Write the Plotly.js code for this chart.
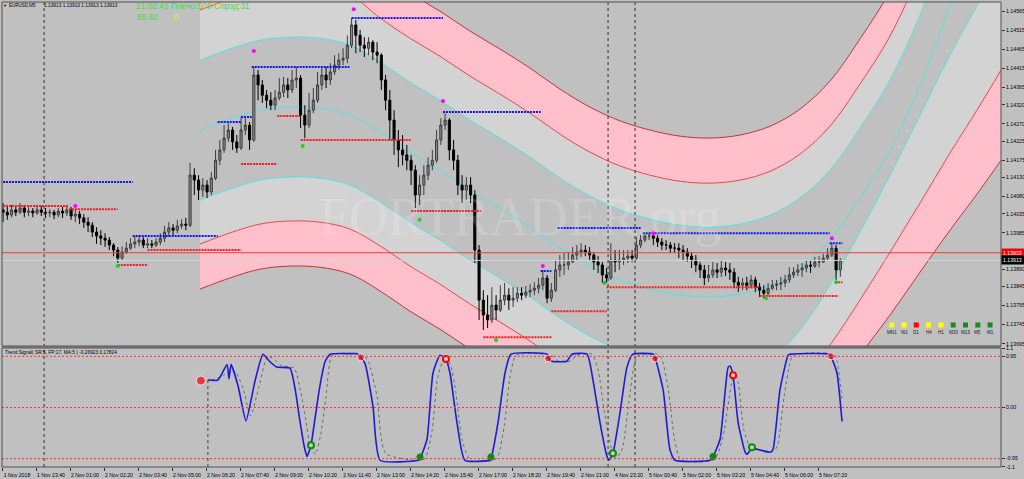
<!DOCTYPE html>
<html><head><meta charset="utf-8">
<script src="https://cdn.plot.ly/plotly-3.0.1.min.js"></script>
<style>html,body{margin:0;padding:0;background:#c0c0c0;}#chart{width:1024px;height:479px;}</style>
</head><body><div id="chart"></div>
<script>
// ---------- axis labels ----------
const timeLabels = ["1 Nov 2018","1 Nov 23:40","2 Nov 01:00","2 Nov 02:20","2 Nov 03:40","2 Nov 05:00","2 Nov 06:20","2 Nov 07:40","2 Nov 09:00","2 Nov 10:20","2 Nov 11:40","2 Nov 13:00","2 Nov 14:20","2 Nov 15:40","2 Nov 17:00","2 Nov 18:20","2 Nov 19:40","2 Nov 21:00","4 Nov 23:20","5 Nov 00:40","5 Nov 02:00","5 Nov 03:20","5 Nov 04:40","5 Nov 06:00","5 Nov 07:20"];
const barsPerLabel = 16;
const priceTicks = [1.14565,1.14515,1.14465,1.14415,1.14365,1.14320,1.14270,1.14225,1.14175,1.14130,1.14080,1.14035,1.13985,1.13890,1.13845,1.13795,1.13745,1.13695];
const signalTicks = [1.1,0.95,0,-0.95,-1.1];
const signalTickText = ["1.1","0.95","0.00","-0.95","-1.1"];

// ---------- price bars (each drawn bar = 2 M5 bars) ----------
const barOpen = [1.14045,1.14039,1.14032,1.14045,1.14039,1.14050,1.14039,1.14042,1.14037,1.14045,
1.14039,1.14037,1.14039,1.14032,1.14042,1.14037,1.14045,1.14029,1.14034,1.14024,
1.14013,1.14005,1.13987,1.13977,1.13971,1.13966,1.13953,1.13940,1.13919,1.13935,
1.13945,1.13956,1.13961,1.13966,1.13953,1.13956,1.13953,1.13961,1.13971,1.13987,
1.13998,1.13992,1.14003,1.14008,1.14005,
1.14136,1.14123,1.14097,1.14110,1.14092,1.14128,1.14175,1.14202,1.14233,1.14254,
1.14223,1.14207,1.14254,1.14267,1.14228,1.14398,1.14372,1.14345,1.14332,1.14319,
1.14338,1.14353,1.14372,1.14359,1.14385,1.14390,1.14293,1.14267,1.14306,1.14332,
1.14372,1.14398,1.14385,1.14406,1.14424,1.14437,1.14442,1.14476,1.14529,1.14502,
1.14476,1.14468,1.14484,1.14458,1.14450,1.14385,1.14332,1.14280,1.14228,1.14202,
1.14189,1.14175,1.14149,1.14084,1.14110,1.14136,1.14162,1.14175,1.14228,1.14267,
1.14280,1.14202,1.14175,1.14110,1.14097,1.14110,1.14084,1.13940,1.13809,1.13770,
1.13757,1.13796,1.13783,1.13809,1.13822,1.13809,1.13814,1.13827,1.13822,1.13830,
1.13835,1.13840,1.13848,1.13867,1.13814,1.13835,1.13888,1.13901,1.13901,1.13909,
1.13927,1.13935,1.13940,1.13935,1.13927,1.13909,1.13901,1.13875,1.13867,1.13914,
1.13909,1.13914,1.13919,1.13924,1.13919,1.13953,1.13966,1.13977,1.13977,1.13971,
1.13961,1.13953,1.13953,1.13945,1.13945,1.13940,1.13935,1.13924,1.13914,1.13901,
1.13888,1.13867,1.13875,1.13888,1.13882,1.13893,1.13888,1.13882,1.13856,1.13848,
1.13854,1.13848,1.13862,1.13843,1.13835,1.13827,1.13840,1.13848,1.13851,1.13854,
1.13862,1.13875,1.13882,1.13888,1.13893,1.13901,1.13898,1.13909,1.13909,1.13919,
1.13927,1.13945,1.13888];
const barHigh = [1.14063,1.14058,1.14058,1.14055,1.14063,1.14058,1.14053,1.14050,1.14053,1.14055,
1.14050,1.14047,1.14045,1.14050,1.14053,1.14055,1.14053,1.14047,1.14042,1.14034,
1.14026,1.14013,1.14000,1.13992,1.13984,1.13974,1.13958,1.13948,1.13950,1.13961,
1.13971,1.13977,1.13979,1.13974,1.13971,1.13966,1.13971,1.13984,1.14003,1.14013,
1.14008,1.14019,1.14021,1.14024,1.14168,
1.14154,1.14136,1.14128,1.14123,1.14144,1.14202,1.14228,1.14267,1.14272,1.14262,
1.14241,1.14288,1.14285,1.14275,1.14419,1.14411,1.14385,1.14359,1.14353,1.14359,
1.14390,1.14393,1.14390,1.14411,1.14419,1.14398,1.14319,1.14351,1.14364,1.14406,
1.14419,1.14419,1.14429,1.14450,1.14455,1.14468,1.14502,1.14547,1.14542,1.14516,
1.14497,1.14497,1.14489,1.14484,1.14455,1.14398,1.14359,1.14306,1.14254,1.14241,
1.14215,1.14189,1.14162,1.14136,1.14162,1.14183,1.14202,1.14254,1.14285,1.14298,
1.14285,1.14228,1.14189,1.14136,1.14131,1.14131,1.14097,1.13953,1.13835,1.13822,
1.13843,1.13822,1.13848,1.13854,1.13840,1.13843,1.13843,1.13843,1.13846,1.13851,
1.13856,1.13867,1.13888,1.13875,1.13854,1.13914,1.13927,1.13932,1.13935,1.13948,
1.13953,1.13958,1.13953,1.13948,1.13935,1.13924,1.13909,1.13893,1.13958,1.13940,
1.13940,1.13940,1.13940,1.13940,1.13974,1.13979,1.13987,1.13984,1.13987,1.13979,
1.13971,1.13966,1.13961,1.13958,1.13958,1.13953,1.13945,1.13935,1.13927,1.13909,
1.13901,1.13901,1.13909,1.13906,1.13914,1.13909,1.13906,1.13893,1.13870,1.13867,
1.13870,1.13875,1.13870,1.13854,1.13848,1.13854,1.13862,1.13862,1.13870,1.13875,
1.13895,1.13895,1.13903,1.13906,1.13914,1.13914,1.13922,1.13924,1.13930,1.13945,
1.13958,1.13953,1.13919];
const barLow = [1.14013,1.14019,1.14026,1.14029,1.14034,1.14026,1.14029,1.14026,1.14032,1.14029,
1.14024,1.14026,1.14021,1.14026,1.14024,1.14029,1.14019,1.14013,1.14008,1.13998,
1.13987,1.13974,1.13956,1.13953,1.13948,1.13940,1.13924,1.13906,1.13914,1.13930,
1.13940,1.13945,1.13950,1.13945,1.13945,1.13945,1.13948,1.13953,1.13961,1.13974,
1.13979,1.13984,1.13995,1.13992,1.14000,
1.14084,1.14071,1.14079,1.14076,1.14084,1.14123,1.14162,1.14194,1.14223,1.14202,
1.14194,1.14202,1.14241,1.14202,1.14223,1.14332,1.14325,1.14311,1.14306,1.14306,
1.14332,1.14340,1.14338,1.14351,1.14364,1.14259,1.14233,1.14259,1.14298,1.14325,
1.14359,1.14364,1.14372,1.14398,1.14411,1.14424,1.14429,1.14468,1.14455,1.14458,
1.14445,1.14450,1.14437,1.14429,1.14359,1.14306,1.14228,1.14189,1.14157,1.14162,
1.14149,1.14110,1.14050,1.14058,1.14084,1.14123,1.14149,1.14168,1.14215,1.14254,
1.14175,1.14149,1.14084,1.14063,1.14071,1.14063,1.13906,1.13757,1.13731,1.13736,
1.13749,1.13757,1.13778,1.13796,1.13783,1.13791,1.13804,1.13809,1.13814,1.13817,
1.13822,1.13827,1.13835,1.13801,1.13804,1.13830,1.13870,1.13875,1.13888,1.13906,
1.13914,1.13922,1.13924,1.13914,1.13888,1.13880,1.13854,1.13854,1.13862,1.13882,
1.13888,1.13901,1.13906,1.13909,1.13914,1.13945,1.13961,1.13966,1.13953,1.13948,
1.13940,1.13940,1.13932,1.13932,1.13919,1.13914,1.13909,1.13893,1.13882,1.13867,
1.13848,1.13856,1.13867,1.13867,1.13870,1.13872,1.13862,1.13840,1.13830,1.13835,
1.13835,1.13840,1.13830,1.13817,1.13814,1.13822,1.13835,1.13835,1.13835,1.13843,
1.13854,1.13867,1.13872,1.13870,1.13882,1.13880,1.13893,1.13895,1.13906,1.13914,
1.13922,1.13862,1.13870];
const barClose = [1.14039,1.14032,1.14045,1.14039,1.14050,1.14039,1.14042,1.14037,1.14045,1.14039,
1.14037,1.14039,1.14032,1.14042,1.14037,1.14045,1.14029,1.14034,1.14024,1.14013,
1.14005,1.13987,1.13977,1.13971,1.13966,1.13953,1.13940,1.13919,1.13935,1.13945,
1.13956,1.13961,1.13966,1.13953,1.13956,1.13953,1.13961,1.13971,1.13987,1.13998,
1.13992,1.14003,1.14008,1.14005,1.14136,
1.14123,1.14097,1.14110,1.14092,1.14128,1.14175,1.14202,1.14233,1.14254,1.14223,
1.14207,1.14254,1.14267,1.14228,1.14398,1.14372,1.14345,1.14332,1.14319,1.14338,
1.14353,1.14372,1.14359,1.14385,1.14390,1.14293,1.14267,1.14306,1.14332,1.14372,
1.14398,1.14385,1.14406,1.14424,1.14437,1.14442,1.14476,1.14529,1.14502,1.14476,
1.14468,1.14484,1.14458,1.14450,1.14385,1.14332,1.14280,1.14228,1.14202,1.14189,
1.14175,1.14149,1.14084,1.14110,1.14136,1.14162,1.14175,1.14228,1.14267,1.14280,
1.14202,1.14175,1.14110,1.14097,1.14110,1.14084,1.13940,1.13809,1.13770,1.13757,
1.13796,1.13783,1.13809,1.13822,1.13809,1.13814,1.13827,1.13822,1.13830,1.13835,
1.13840,1.13848,1.13867,1.13814,1.13835,1.13888,1.13901,1.13901,1.13909,1.13927,
1.13935,1.13940,1.13935,1.13927,1.13909,1.13901,1.13875,1.13867,1.13914,1.13909,
1.13914,1.13919,1.13924,1.13919,1.13953,1.13966,1.13977,1.13977,1.13971,1.13961,
1.13953,1.13953,1.13945,1.13945,1.13940,1.13935,1.13924,1.13914,1.13901,1.13888,
1.13867,1.13875,1.13888,1.13882,1.13893,1.13888,1.13882,1.13856,1.13848,1.13854,
1.13848,1.13862,1.13843,1.13835,1.13827,1.13840,1.13848,1.13851,1.13854,1.13862,
1.13875,1.13882,1.13888,1.13893,1.13901,1.13898,1.13909,1.13909,1.13919,1.13927,
1.13945,1.13888,1.13913];
const barsPerCandle = 2;

// ---------- support / resistance levels (bar index start/end, price) ----------
const resStart = [0,61,101,112,117,164,207,253,261,301,389];
const resEnd   = [61,101,112,117,163,207,253,258,300,389,395];
const resPrice = [1.14118,1.13977,1.14275,1.14288,1.14419,1.14547,1.14301,1.13885,1.13998,1.13984,1.13958];
const supStart = [0,31,54,68,112,129,140,192,226,258,284,356,393];
const supEnd   = [31,54,68,112,129,140,192,225,258,284,356,393,395];
const supPrice = [1.14055,1.14047,1.13901,1.13940,1.14165,1.14291,1.14228,1.14042,1.13712,1.13780,1.13843,1.13820,1.13856];

// ---------- fractal dots ----------
const upFractX = [34,118,165,207,254,306,390];
const upFractY = [1.14055,1.14461,1.14570,1.14330,1.13898,1.13984,1.13971];
const dnFractX = [54,141,196,232,283,359,392];
const dnFractY = [1.13898,1.14212,1.14019,1.13705,1.13854,1.13814,1.13856];

// ---------- channel (bar index, price of each line) ----------
const chanX = [92.7,106.8,120.9,135.0,149.1,163.3,177.4,191.5,205.6,219.7,233.8,248.0,262.1,276.2,290.3,304.4,318.6,332.7,346.8,360.9,375.0,389.1,403.2,417.4,431.5,445.6,459.7,469.6];
const chanUpperOuter = [1.14670,1.14699,1.14722,1.14730,1.14727,1.14709,1.14665,1.14612,1.14565,1.14513,1.14466,1.14416,1.14361,1.14314,1.14278,1.14254,1.14238,1.14233,1.14241,1.14264,1.14309,1.14382,1.14492,1.14618,1.14788,1.14997,1.15232,1.15402];
const chanUpperRed   = [1.14568,1.14597,1.14620,1.14628,1.14625,1.14607,1.14547,1.14494,1.14447,1.14395,1.14348,1.14298,1.14243,1.14196,1.14160,1.14136,1.14120,1.14115,1.14123,1.14146,1.14191,1.14264,1.14374,1.14500,1.14670,1.14879,1.15114,1.15284];
const chanUpperCyan  = [1.14437,1.14466,1.14489,1.14497,1.14494,1.14476,1.14432,1.14379,1.14332,1.14280,1.14233,1.14183,1.14128,1.14081,1.14045,1.14021,1.14005,1.14000,1.14008,1.14031,1.14076,1.14149,1.14259,1.14385,1.14555,1.14764,1.14999,1.15169];
const chanMid        = [1.14254,1.14283,1.14306,1.14314,1.14311,1.14293,1.14249,1.14196,1.14149,1.14097,1.14050,1.14000,1.13945,1.13898,1.13862,1.13838,1.13822,1.13817,1.13825,1.13848,1.13893,1.13966,1.14076,1.14202,1.14372,1.14581,1.14816,1.14986];
const chanLowerCyan  = [1.14071,1.14100,1.14123,1.14131,1.14128,1.14110,1.14066,1.14013,1.13966,1.13914,1.13867,1.13817,1.13762,1.13715,1.13679,1.13655,1.13639,1.13634,1.13642,1.13657,1.13731,1.13848,1.13987,1.14136,1.14293,1.14450,1.14594,1.14699];
const chanLowerRed   = [1.13956,1.13985,1.14008,1.14016,1.14013,1.13995,1.13951,1.13898,1.13851,1.13799,1.13752,1.13702,1.13647,1.13600,1.13564,1.13540,1.13524,1.13519,1.13527,1.13550,1.13587,1.13691,1.13809,1.13935,1.14063,1.14194,1.14319,1.14411];
const chanLowerOuter = [1.13838,1.13867,1.13890,1.13898,1.13895,1.13877,1.13833,1.13780,1.13733,1.13681,1.13634,1.13584,1.13529,1.13482,1.13446,1.13422,1.13406,1.13401,1.13409,1.13433,1.13477,1.13561,1.13665,1.13770,1.13882,1.13992,1.14097,1.14175];

// ---------- current prices ----------
const bidPrice = 1.13913;
const redLinePrice = 1.13933;
const separatorBars = [19.3, 284.7, 297.4];

// ---------- Trend Signal indicator ----------
const trendX = [96.4,101.1,105.4,106.3,107.3,110.6,114.3,118.6,122.3,125.6,128.9,135.0,137.4,139.7,141.6,143.0,144.9,146.8,149.1,151.5,153.9,163.3,166.6,168.4,170.3,174.1,177.4,195.3,196.2,199.5,202.3,205.6,208.4,210.3,213.6,217.3,229.1,229.6,232.9,236.2,239.0,256.0,256.5,258.3,265.3,267.7,274.8,277.6,280.9,284.2,285.1,287.0,290.3,293.6,296.4,305.9,306.8,310.6,313.8,316.2,332.7,334.1,337.4,341.2,342.1,343.5,345.9,349.2,350.1,352.4,356.2,360.9,362.3,365.6,369.4,370.3,389.1,389.6,392.4,394.8];
const trendV = [0.51,0.51,0.80,0.53,0.80,0.40,-0.25,0.50,0.99,0.85,0.75,0.73,0.35,-0.25,-0.70,-0.91,-0.70,-0.20,0.40,0.85,0.99,1.00,1.00,0.93,0.82,0.01,-0.98,-0.98,-0.95,-0.59,0.64,0.97,0.90,0.64,-0.28,-0.98,-0.98,-0.95,-0.28,0.64,0.99,0.99,0.92,0.86,0.86,0.99,0.99,0.51,-0.28,-0.91,-0.98,-0.85,-0.10,0.75,0.99,0.99,0.93,0.33,-0.78,-0.98,-0.98,-0.91,-0.59,0.75,0.77,0.60,-0.28,-0.83,-0.87,-0.76,-0.79,-0.83,-0.78,0.33,0.97,0.99,0.99,0.95,0.64,-0.26];
const sigX = [98,103,107.5,109.5,113,116.5,120.5,124.5,128,131,137,140,142.5,144.5,147,149.5,152,155,166,169.5,172,176,180,197,199,202,204.5,208,210.5,213,216,220,231,233,236,238.5,241.5,258,260.5,267,270,277,280,283,286.5,288.5,291.5,294.5,298.5,308,310,313,316,319,334,336.5,339.5,343,344.5,346,348.5,352,354,358,362.5,364.5,367.5,371,373,391,392.5,394.8];
const sigV = [0.51,0.58,0.70,0.66,0.35,-0.15,0.40,0.95,0.88,0.78,0.73,0.30,-0.25,-0.70,-0.87,-0.50,0.20,0.97,1.00,0.97,0.85,0.20,-0.85,-0.98,-0.92,-0.40,0.55,0.95,0.80,0.30,-0.60,-0.98,-0.98,-0.90,-0.30,0.55,0.97,0.97,0.88,0.86,0.97,0.99,0.70,-0.10,-0.80,-0.95,-0.75,0.10,0.95,0.99,0.90,0.35,-0.60,-0.98,-0.98,-0.85,-0.40,0.50,0.65,0.45,-0.40,-0.78,-0.78,-0.80,-0.82,-0.70,0.20,0.92,0.99,0.99,0.85,0.17];
const sellX = [93.1,168.4,256.5,306.8,389.6];
const sellV = [0.50,0.93,0.91,0.91,0.95];
const sellRingX = [208.4,343.5];
const sellRingV = [0.90,0.60];
const buyX = [196.2,229.6,334.1];
const buyV = [-0.92,-0.92,-0.91];
const buyRingX = [144.9,287.0,352.4];
const buyRingV = [-0.70,-0.85,-0.74];
const indicatorLevels = [0.95, 0, -0.95];

// ---------- multi-timeframe panel ----------
const tfLabels = ["MN1","W1","D1","H4","H1","M30","M15","M5","M1"];
const tfState  = ["flat","flat","down","flat","flat","up","up","up","up"];

// ================= drawing =================
const W = 1024, H = 479, ML = 2, MR = 23, MT = 2, MB = 12;
const PW = W - ML - MR, PH = H - MT - MB;
const pxX = px => (px - ML) / PW;
const pxY = py => (H - MB - py) / PH;
const mainDomain = [pxY(346), 1];
const indDomain = [0, pxY(348)];
const FONT = "Liberation Sans, Arial, sans-serif";
const PRICE_RANGE = [1.13689, 1.14589];

function segs(starts, ends, prices) {
  const xs = [], ys = [];
  starts.forEach((s, i) => { xs.push(s, ends[i], null); ys.push(prices[i], prices[i], null); });
  return {xs, ys};
}
const res = segs(resStart, resEnd, resPrice);
const sup = segs(supStart, supEnd, supPrice);
const barX = barClose.map((_, i) => i * barsPerCandle);

const PINK = "#ffc0cb", LGRAY = "#d3d3d3", CYAN = "#4fe3e3", DRED = "#b83a3a", RED = "#f04848";
const band = (y, color, fill, fillcolor) => ({
  type: "scatter", mode: "lines", x: chanX, y: y, xaxis: "x", yaxis: "y",
  line: {color: color, width: 1, shape: "spline", smoothing: 1},
  fill: fill || "none", fillcolor: fillcolor, hoverinfo: "skip"
});

const traces = [
  // channel on the base price subplot (drawn first)
  band(chanUpperOuter, DRED),
  band(chanUpperRed, RED, "tonexty", PINK),
  band(chanUpperCyan, CYAN, "tonexty", LGRAY),
  band(chanLowerCyan, CYAN),
  band(chanLowerRed, RED, "tonexty", LGRAY),
  band(chanLowerOuter, DRED, "tonexty", PINK),
  band(chanMid, CYAN),
  // price bars and levels on an overlaying subplot so they sit above the channel
  {type: "candlestick", x: barX, open: barOpen, high: barHigh, low: barLow, close: barClose,
   xaxis: "x", yaxis: "y3", whiskerwidth: 0,
   increasing: {line: {color: "#3c3c3c", width: 1}, fillcolor: "#8c8c8c"},
   decreasing: {line: {color: "#000000", width: 1}, fillcolor: "#000000"}, hoverinfo: "skip"},
  {type: "scatter", mode: "lines", x: res.xs, y: res.ys, xaxis: "x", yaxis: "y3", connectgaps: false,
   line: {color: "#1010ff", width: 2, dash: "2px,1px"}, hoverinfo: "skip"},
  {type: "scatter", mode: "lines", x: sup.xs, y: sup.ys, xaxis: "x", yaxis: "y3", connectgaps: false,
   line: {color: "#ff1a1a", width: 2, dash: "2px,1px"}, hoverinfo: "skip"},
  {type: "scatter", mode: "markers", x: upFractX, y: upFractY, xaxis: "x", yaxis: "y3",
   marker: {color: "#ff00ff", size: 4}, hoverinfo: "skip"},
  {type: "scatter", mode: "markers", x: dnFractX, y: dnFractY, xaxis: "x", yaxis: "y3",
   marker: {color: "#22cc22", size: 4}, hoverinfo: "skip"},
  // indicator
  {type: "scatter", mode: "lines", x: sigX, y: sigV, xaxis: "x", yaxis: "y2",
   line: {color: "#6a6a6a", width: 1, dash: "dot", shape: "spline", smoothing: 0.6}, hoverinfo: "skip"},
  {type: "scatter", mode: "lines", x: trendX, y: trendV, xaxis: "x", yaxis: "y2",
   line: {color: "#1c1cd8", width: 1.6, shape: "spline", smoothing: 0.5}, hoverinfo: "skip"},
  {type: "scatter", mode: "markers", x: sellX, y: sellV, xaxis: "x", yaxis: "y2",
   marker: {color: "#ff0000", size: sellX.map((_, i) => i === 0 ? 9 : 7)}, hoverinfo: "skip"},
  {type: "scatter", mode: "markers", x: sellRingX, y: sellRingV, xaxis: "x", yaxis: "y2",
   marker: {color: "#ffd0d0", size: 6, line: {color: "#ff0000", width: 2}}, hoverinfo: "skip"},
  {type: "scatter", mode: "markers", x: buyX, y: buyV, xaxis: "x", yaxis: "y2",
   marker: {color: "#108a10", size: 7}, hoverinfo: "skip"},
  {type: "scatter", mode: "markers", x: buyRingX, y: buyRingV, xaxis: "x", yaxis: "y2",
   marker: {color: "#b8dcb8", size: 6, line: {color: "#108a10", width: 2}}, hoverinfo: "skip"}
];

const shapes = [];
shapes.push({type: "line", xref: "paper", x0: 0, x1: 1, yref: "y", y0: redLinePrice, y1: redLinePrice, line: {color: "#e84040", width: 1}});
shapes.push({type: "line", xref: "paper", x0: 0, x1: 1, yref: "y", y0: bidPrice, y1: bidPrice, line: {color: "#d6d6d6", width: 1}});
separatorBars.forEach(b => shapes.push({type: "line", xref: "x", x0: b, x1: b, yref: "paper", y0: 0, y1: 1, line: {color: "#303030", width: 1, dash: "dot"}}));
indicatorLevels.forEach(v => shapes.push({type: "line", xref: "paper", x0: 0, x1: 1, yref: "y2", y0: v, y1: v, line: {color: "#ff3030", width: 1, dash: "2px,2px"}}));
shapes.push({type: "line", xref: "x", x0: trendX[0], x1: trendX[0], yref: "y2", y0: trendV[0], y1: -1.105, line: {color: "#404040", width: 1, dash: "dot"}});
shapes.push({type: "rect", xref: "paper", x0: 0, x1: 1, yref: "paper", y0: pxY(348), y1: pxY(346), fillcolor: "#8a8a8a", line: {width: 0}});
shapes.push({type: "rect", xref: "paper", x0: 0, x1: 1, yref: "paper", y0: mainDomain[0], y1: 1, line: {color: "#505050", width: 1}});
shapes.push({type: "rect", xref: "paper", x0: 0, x1: 1, yref: "paper", y0: 0, y1: indDomain[1], line: {color: "#505050", width: 1}});
const tfColor = {flat: "#ffff00", down: "#ff0000", up: "#1a8a1a"};
tfLabels.forEach((t, i) => {
  const cx = 891.7 + 12.3 * i;
  shapes.push({type: "rect", xref: "paper", yref: "paper", x0: pxX(cx - 2.5), x1: pxX(cx + 2.5), y0: pxY(327.5), y1: pxY(322.5), fillcolor: tfColor[tfState[i]], line: {width: 0}});
});

const ann = (px, py, text, size, color, anchor, family) => ({
  xref: "paper", yref: "paper", x: pxX(px), y: pxY(py), xanchor: anchor || "left", yanchor: "middle",
  text: text, showarrow: false, font: {family: family || FONT, size: size, color: color}, borderpad: 0
});

const annotations = [
  ann(520, 217, "FORTRADER.org", 54, "rgba(255,255,255,0.16)", "center", "Liberation Serif, Times New Roman, serif"),
  ann(2, 6, "▼", 4, "#000"),
  ann(8, 6, "EURUSD,M5", 4.5, "#000"),
  ann(43, 6, "1.13913 1.13913 1.13913 1.13913", 4.8, "#000"),
  ann(135, 6.5, "21:02:41 Плечо:500 Спрэд:31", 8.4, "#44dd44"),
  ann(136, 17, "85.62", 8.4, "#44dd44"),
  ann(173, 17, "0", 8.4, "#eeee30"),
  ann(4, 352.5, "Trend Signal( SR:5, FP:17, MA:5 ) -0.26923 0.17824", 4.8, "#000"),
  {xref: "paper", x: 1, xanchor: "left", yref: "y", y: redLinePrice, yanchor: "middle", text: redLinePrice.toFixed(5),
   showarrow: false, bgcolor: "#ff0000", font: {family: FONT, size: 5.2, color: "#ffffff"}, borderpad: 1, width: 21, align: "left"},
  {xref: "paper", x: 1, xanchor: "left", yref: "y", y: bidPrice, yanchor: "middle", text: bidPrice.toFixed(5),
   showarrow: false, bgcolor: "#000000", font: {family: FONT, size: 5.2, color: "#ffffff"}, borderpad: 1, width: 21, align: "left"}
];
tfLabels.forEach((t, i) => annotations.push(ann(891.7 + 12.3 * i, 332.5, t, 4.6, "#202020", "center")));

const tickFont = {family: FONT, size: 5.2, color: "#000"};
const layout = {
  width: W, height: H, margin: {l: ML, r: MR, t: MT, b: MB},
  paper_bgcolor: "#c0c0c0", plot_bgcolor: "#c0c0c0", showlegend: false, hovermode: false,
  xaxis: {anchor: "y2", range: [-0.5, 469.6], showgrid: false, zeroline: false, showline: false,
    tickmode: "array", tickvals: timeLabels.map((_, k) => k * barsPerLabel - 0.5), ticktext: timeLabels,
    ticks: "outside", ticklen: 3, tickcolor: "#303030", tickfont: tickFont, ticklabelshift: 15, ticklabelstandoff: 0,
    rangeslider: {visible: false}, fixedrange: true},
  yaxis: {domain: mainDomain, anchor: "x", side: "right", range: PRICE_RANGE, showgrid: false, zeroline: false,
    tickmode: "array", tickvals: priceTicks, ticktext: priceTicks.map(v => v.toFixed(5)),
    ticks: "outside", ticklen: 3, tickcolor: "#303030", tickfont: tickFont, fixedrange: true},
  yaxis3: {overlaying: "y", anchor: "x", side: "right", range: PRICE_RANGE, showgrid: false, zeroline: false,
    showticklabels: false, ticks: "", showline: false, fixedrange: true},
  yaxis2: {domain: indDomain, anchor: "x", side: "right", range: [-1.105, 1.105], showgrid: false, zeroline: false,
    tickmode: "array", tickvals: signalTicks, ticktext: signalTickText,
    ticks: "outside", ticklen: 3, tickcolor: "#303030", tickfont: tickFont, fixedrange: true},
  shapes: shapes, annotations: annotations
};
Plotly.newPlot("chart", traces, layout, {staticPlot: true, displayModeBar: false});
</script></body></html>
